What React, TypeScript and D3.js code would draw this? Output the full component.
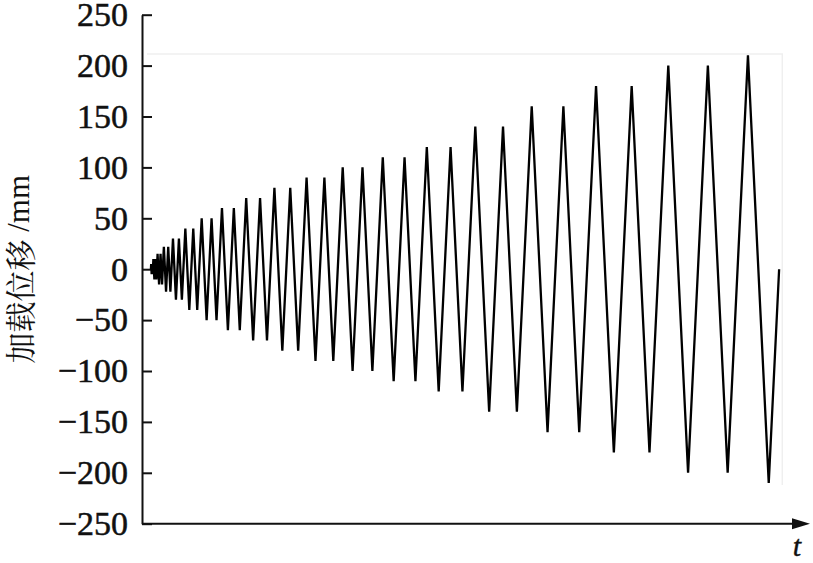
import React, { useEffect, useRef } from "react";
import * as d3 from "d3";

// Turning points of the loading history (time in s, displacement in mm)
const turnTimes = [
  180, 185, 195, 205, 215, 230, 250, 270, 290, 315, 345, 375, 405, 442, 486, 530, 574,
  626, 686, 746, 806, 876, 956, 1036, 1116, 1206, 1306, 1406, 1506, 1616, 1736, 1856, 1976,
  2106, 2246, 2386, 2526, 2676, 2836, 2996, 3156, 3326, 3506, 3686, 3866, 4056, 4256,
  4456, 4656, 4866, 5086, 5306, 5526, 5756, 5996, 6236, 6476, 6736, 7016, 7296, 7576,
  7876, 8196, 8516, 8836, 9176, 9536, 9896, 10256, 10636, 11036, 11436, 11836, 12246,
  12666, 12876,
];
const turnValues = [
  0, 5, -5, 5, -5, 10, -10, 10, -10, 15, -15, 15, -15, 22, -22, 22, -22,
  30, -30, 30, -30, 40, -40, 40, -40, 50, -50, 50, -50, 60, -60, 60, -60,
  70, -70, 70, -70, 80, -80, 80, -80, 90, -90, 90, -90, 100, -100,
  100, -100, 110, -110, 110, -110, 120, -120, 120, -120, 140, -140, 140, -140,
  160, -160, 160, -160, 180, -180, 180, -180, 200, -200, 200, -200, 210,
  -210, 0,
];
const yTicks = [-250, -200, -150, -100, -50, 0, 50, 100, 150, 200, 250];
const yLabelCJK = "加载位移";
const yLabelUnit = " /mm";
const xLabel = "t";

const W = 813;
const H = 563;
const SERIF = "'Liberation Serif', 'Times New Roman', serif";

export default function App() {
  const axisRef = useRef<SVGGElement>(null);

  const x = d3.scaleLinear().domain([0, 13500]).range([142, 810]);
  const y = d3.scaleLinear().domain([-250, 250]).range([523.7, 14.7]);

  const pts: [number, number][] = turnTimes.map((t, i) => [t, turnValues[i]]);
  const line = d3
    .line<[number, number]>()
    .x((d) => x(d[0]))
    .y((d) => y(d[1]));

  useEffect(() => {
    if (!axisRef.current) return;
    const g = d3.select(axisRef.current);
    g.selectAll("*").remove();
    g.call(
      d3
        .axisLeft(y)
        .tickValues(yTicks)
        .tickSizeInner(-10)
        .tickSizeOuter(0)
        .tickPadding(14)
    );
    g.attr("font-family", SERIF).attr("font-size", 34);
    g.selectAll("path.domain").attr("stroke", "#111").attr("stroke-width", 2);
    g.selectAll(".tick line").attr("stroke", "#111").attr("stroke-width", 2);
    g.selectAll(".tick text")
      .attr("fill", "#111")
      .attr("stroke", "#111")
      .attr("stroke-width", 0.5)
      .style("font-family", SERIF)
      .style("font-size", "34px");
  }, []);

  const x0 = x(0);
  const xEnd = x(13500);
  const yBase = y(-250);

  return (
    <svg
      width={W}
      height={H}
      style={{ position: "absolute", left: 0, top: 0, background: "#fff" }}
    >
      {/* faint plot frame */}
      <path
        d={`M${x0 + 5},54 L${x(12940)},54 L${x(12940)},485`}
        fill="none"
        stroke="#efefef"
        strokeWidth={1.5}
      />
      {/* x axis with arrow */}
      <line x1={x0} y1={yBase} x2={xEnd - 14} y2={yBase} stroke="#111" strokeWidth={2} />
      <path
        d={`M${xEnd - 18},${yBase - 5.5} L${xEnd},${yBase} L${xEnd - 18},${yBase + 5.5} Z`}
        fill="#111"
      />
      <g ref={axisRef} transform={`translate(${x0},0)`} />
      <path
        d={line(pts) || ""}
        fill="none"
        stroke="#000"
        strokeWidth={2.3}
        strokeLinejoin="miter"
      />
      <text
        x={797}
        y={556}
        textAnchor="middle"
        style={{ fontFamily: SERIF, fontStyle: "italic", fontSize: "30px" }}
        stroke="#111"
        strokeWidth={0.4}
        fill="#111"
      >
        {xLabel}
      </text>
      <text
        transform={`translate(18,${y(0)}) rotate(-90)`}
        textAnchor="middle"
        dominantBaseline="central"
        fontSize={31}
        fill="#111"
      >
        <tspan style={{ fontFamily: "'Noto Serif CJK SC', 'Noto Sans CJK SC', serif" }}>
          {yLabelCJK}
        </tspan>
        <tspan style={{ fontFamily: SERIF }}>{yLabelUnit}</tspan>
      </text>
    </svg>
  );
}
